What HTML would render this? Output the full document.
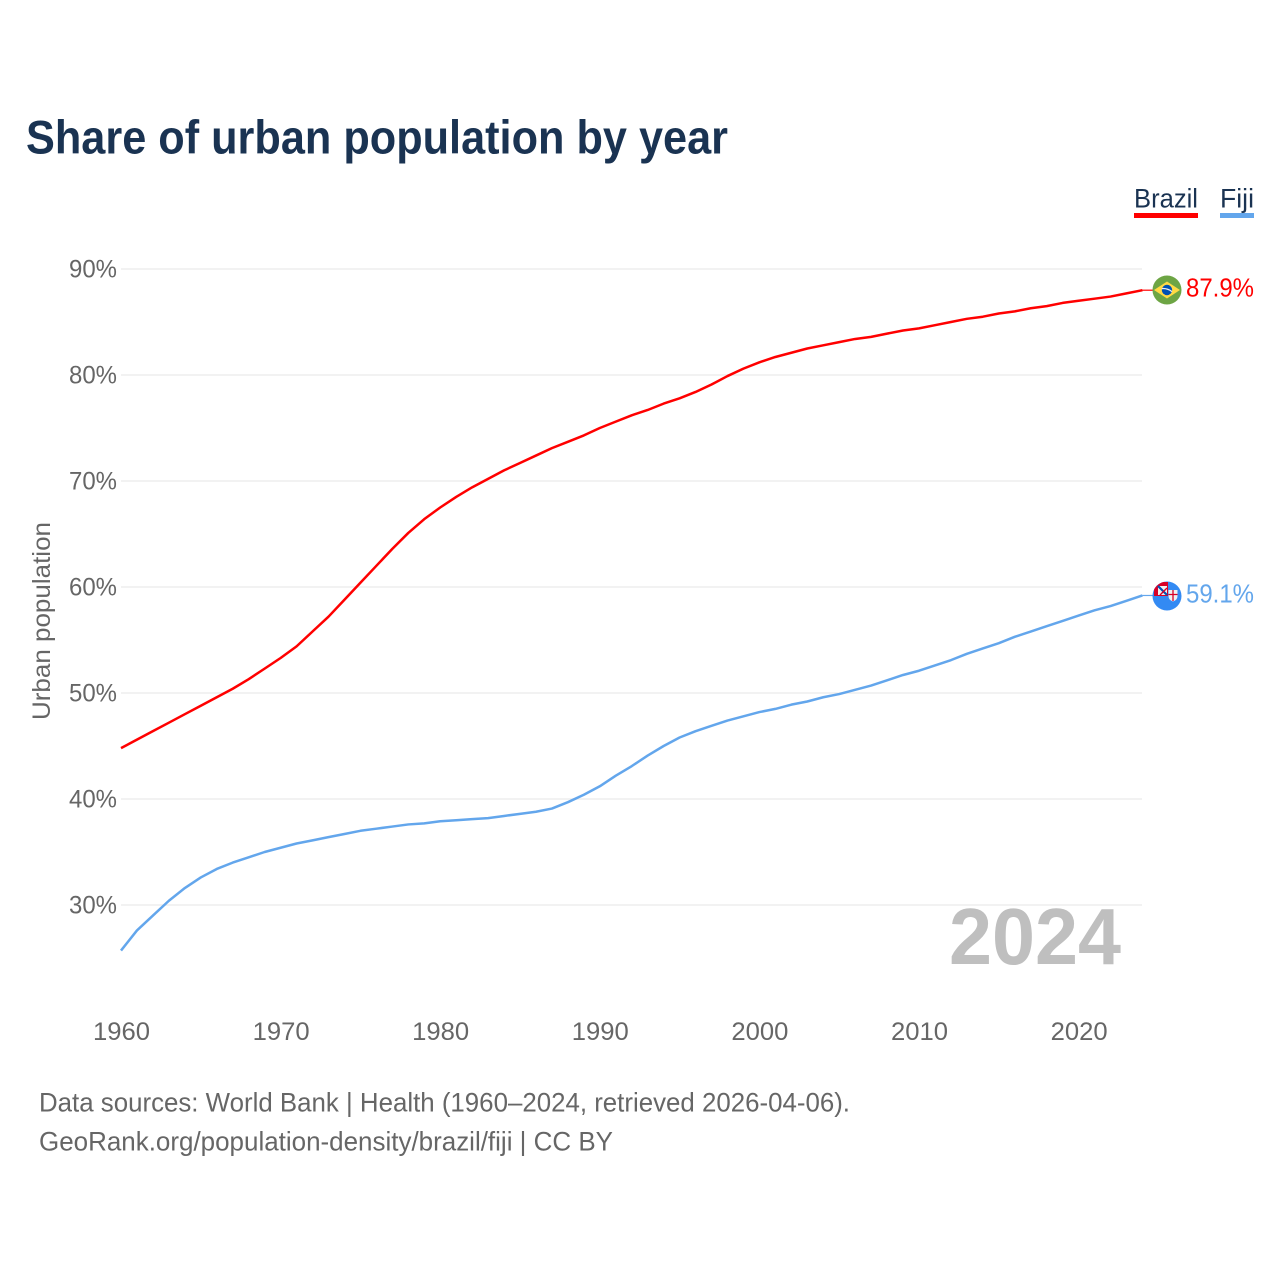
<!DOCTYPE html>
<html>
<head>
<meta charset="utf-8">
<title>Share of urban population by year</title>
<style>
html,body{margin:0;padding:0;background:#fff;}
svg{display:block;font-family:"Liberation Sans",sans-serif;}
</style>
</head>
<body>
<svg id="chart" width="1280" height="1280" viewBox="0 0 1280 1280" xmlns="http://www.w3.org/2000/svg">
  <defs>
    <clipPath id="brazil-clip"><circle cx="1167" cy="290" r="14.5"/></clipPath>
    <clipPath id="fiji-clip"><circle cx="1167" cy="596" r="14.5"/></clipPath>
  </defs>
  <rect width="1280" height="1280" fill="#fff"/>
  <text x="26" y="153.5" font-size="47" font-weight="700" fill="#1a3352" textLength="702" lengthAdjust="spacingAndGlyphs">Share of urban population by year</text>

  <g id="grid"></g>
  <g id="y-ticks"></g>
  <g id="x-ticks"></g>
  <text transform="translate(50,621) rotate(-90)" text-anchor="middle" font-size="25" fill="#666" textLength="198" lengthAdjust="spacingAndGlyphs">Urban population</text>

  <text x="1121" y="964" text-anchor="end" font-size="80" font-weight="700" fill="#bfbfbf" textLength="172" lengthAdjust="spacingAndGlyphs">2024</text>

  <g id="series"></g>

  <g>
    <text x="1134" y="207.5" font-size="27" fill="#1a3352" textLength="64" lengthAdjust="spacingAndGlyphs">Brazil</text>
    <rect x="1134" y="213" width="64" height="5" fill="#ff0000"/>
  </g>
  <g>
    <text x="1220" y="207.5" font-size="27" fill="#1a3352" textLength="34" lengthAdjust="spacingAndGlyphs">Fiji</text>
    <rect x="1220" y="213" width="34" height="5" fill="#63a6ec"/>
  </g>

  <g clip-path="url(#brazil-clip)">
    <rect x="1150" y="274" width="34" height="32" fill="#6da544"/>
    <polygon points="1154,290 1167,281.5 1180,290 1167,298.5" fill="#ffda44"/>
    <circle cx="1167" cy="290" r="5.2" fill="#0052b4"/>
    <path d="M1161.8,288.6 Q1167,288 1172,291.6" stroke="#f0f0f0" stroke-width="1.2" fill="none"/>
  </g>

  <g clip-path="url(#fiji-clip)">
    <rect x="1150" y="580" width="34" height="32" fill="#338af3"/>
    <rect x="1154" y="582" width="14" height="14" fill="#d80027"/>
    <rect x="1158" y="586" width="9" height="9" fill="#f0f0f0"/>
    <path d="M1158,586 L1167,595" stroke="#0052b4" stroke-width="2.2"/>
    <path d="M1160,595 L1167,588" stroke="#d80027" stroke-width="1.4"/>
    <path d="M1168.5,590 h9 v6 q0,4 -4.5,5.5 q-4.500,-1.500 -4.500,-5.500 z" fill="#f0f0f0"/>
    <path d="M1173,590 v11 M1168.500,594.500 h9" stroke="#d80027" stroke-width="1.300"/>
  </g>

  <text x="1186" y="296.5" font-size="26" fill="#ff0000" textLength="68" lengthAdjust="spacingAndGlyphs">87.9%</text>
  <text x="1186" y="602.5" font-size="26" fill="#63a6ec" textLength="68" lengthAdjust="spacingAndGlyphs">59.1%</text>

  <text x="39" y="1111.5" font-size="27" fill="#666" textLength="811" lengthAdjust="spacingAndGlyphs">Data sources: World Bank | Health (1960–2024, retrieved 2026-04-06).</text>
  <text x="39" y="1150.5" font-size="27" fill="#666" textLength="574" lengthAdjust="spacingAndGlyphs">GeoRank.org/population-density/brazil/fiji | CC BY</text>
</svg>
<script>
const years = [1960,1961,1962,1963,1964,1965,1966,1967,1968,1969,1970,1971,1972,1973,1974,1975,1976,1977,1978,1979,1980,1981,1982,1983,1984,1985,1986,1987,1988,1989,1990,1991,1992,1993,1994,1995,1996,1997,1998,1999,2000,2001,2002,2003,2004,2005,2006,2007,2008,2009,2010,2011,2012,2013,2014,2015,2016,2017,2018,2019,2020,2021,2022,2023,2024];
const brazilValues = [44.8,45.6,46.4,47.2,48.0,48.8,49.6,50.4,51.3,52.3,53.3,54.4,55.8,57.2,58.8,60.4,62.0,63.6,65.1,66.4,67.5,68.5,69.4,70.2,71.0,71.7,72.4,73.1,73.7,74.3,75.0,75.6,76.2,76.7,77.3,77.8,78.4,79.1,79.9,80.6,81.2,81.7,82.1,82.5,82.8,83.1,83.4,83.6,83.9,84.2,84.4,84.7,85.0,85.3,85.5,85.8,86.0,86.3,86.5,86.8,87.0,87.2,87.4,87.7,88.0];
const fijiValues = [25.7,27.6,29.0,30.4,31.6,32.6,33.4,34.0,34.5,35.0,35.4,35.8,36.1,36.4,36.7,37.0,37.2,37.4,37.6,37.7,37.9,38.0,38.1,38.2,38.4,38.6,38.8,39.1,39.7,40.4,41.2,42.2,43.1,44.1,45.0,45.8,46.4,46.9,47.4,47.8,48.2,48.5,48.9,49.2,49.6,49.9,50.3,50.7,51.2,51.7,52.1,52.6,53.1,53.7,54.2,54.7,55.3,55.8,56.3,56.8,57.3,57.8,58.2,58.7,59.2];
const yTickValues = [30,40,50,60,70,80,90];
const xTickValues = [1960,1970,1980,1990,2000,2010,2020];

const NS = 'http://www.w3.org/2000/svg';
const xScale = year => 121 + (year - 1960) * 15.96;
const yScale = value => 905 - (value - 30) * 10.6;

function make(tag, attrs, parent) {
  const el = document.createElementNS(NS, tag);
  for (const k in attrs) el.setAttribute(k, attrs[k]);
  parent.appendChild(el);
  return el;
}

const gridGroup = document.getElementById('grid');
const yTickGroup = document.getElementById('y-ticks');
yTickValues.forEach(v => {
  const line = make('line', {x1: 121, x2: 1142, y1: yScale(v), y2: yScale(v), stroke: '#eeeeee', 'stroke-width': 1.5}, gridGroup);
  
  
  const label = make('text', {x: 117, y: yScale(v) + 8.5, 'text-anchor': 'end', 'font-size': 25, fill: '#666', textLength: 48, lengthAdjust: 'spacingAndGlyphs'}, yTickGroup);
  
  
  label.textContent = v + '%';
});

const xTickGroup = document.getElementById('x-ticks');
xTickValues.forEach(y => {
  const label = make('text', {x: xScale(y) + 0.5, y: 1040, 'text-anchor': 'middle', 'font-size': 25, fill: '#666', textLength: 57, lengthAdjust: 'spacingAndGlyphs'}, xTickGroup);
  
  
  label.textContent = y;
});

const seriesGroup = document.getElementById('series');
function drawSeries(values, color, name) {
  const pts = values.map((v, i) => xScale(years[i]).toFixed(2) + ',' + yScale(v).toFixed(2));
  const lastValue = values[values.length - 1];
  const lastYear = years[years.length - 1];
  const line = make('polyline', {points: pts.join(' '), fill: 'none', stroke: color, 'stroke-width': 2.5, 'stroke-linejoin': 'round'}, seriesGroup);
  
  
  const leader = make('line', {x1: xScale(lastYear), x2: 1153, y1: yScale(lastValue), y2: yScale(lastValue), stroke: color, 'stroke-width': 1.2}, seriesGroup);
  
  
}
drawSeries(brazilValues, '#ff0000', 'brazil-line');
drawSeries(fijiValues, '#63a6ec', 'fiji-line');
</script>
</body>
</html>
